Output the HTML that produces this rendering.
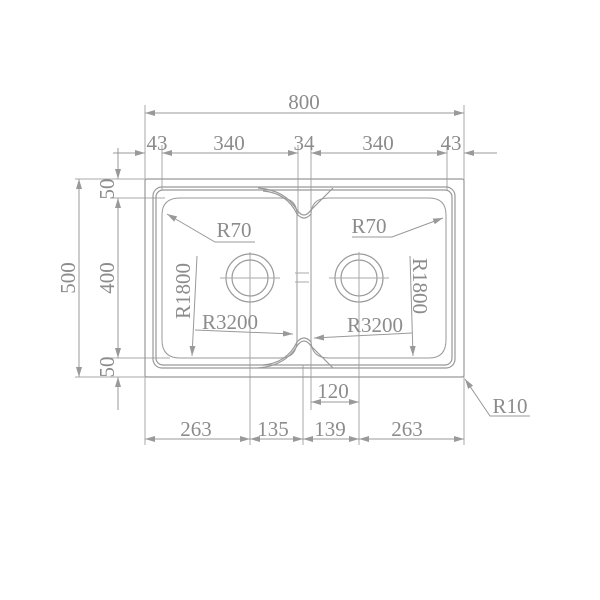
<!DOCTYPE html>
<html><head><style>html,body{margin:0;padding:0;background:#fff}svg{display:block}text{font-family:"Liberation Serif",serif;font-size:21px;fill:#8c8c8c}</style></head><body>
<svg width="600" height="600" viewBox="0 0 600 600" xmlns="http://www.w3.org/2000/svg">
<defs><marker id="a" viewBox="0 0 10 6" refX="10" refY="3" markerWidth="10" markerHeight="6" orient="auto-start-reverse" markerUnits="userSpaceOnUse"><path d="M0,0L10,3L0,6z" fill="#999"/></marker></defs>
<g stroke="#aaa" stroke-width="1" fill="none">
<line x1="145" y1="105" x2="145" y2="445"/><line x1="464" y1="105" x2="464" y2="383"/>
<line x1="162" y1="145" x2="162" y2="190"/><line x1="447" y1="145" x2="447" y2="190"/>
<line x1="298" y1="145" x2="298" y2="214"/><line x1="311" y1="145" x2="311" y2="410"/>
<line x1="250" y1="252" x2="250" y2="445"/><line x1="359" y1="252" x2="359" y2="445"/>
<line x1="303" y1="365" x2="303" y2="445"/><line x1="464" y1="377" x2="464" y2="445"/>
<line x1="75" y1="179" x2="145" y2="179"/><line x1="75" y1="377" x2="145" y2="377"/>
<line x1="110" y1="198" x2="165" y2="198"/><line x1="110" y1="358" x2="170" y2="358"/>
</g>
<g stroke="#999" stroke-width="1" fill="none">
<line x1="145" y1="113" x2="464" y2="113" marker-start="url(#a)" marker-end="url(#a)"/>
<line x1="113" y1="153" x2="145" y2="153" marker-end="url(#a)"/>
<line x1="162" y1="153" x2="298" y2="153" marker-start="url(#a)" marker-end="url(#a)"/>
<line x1="311" y1="153" x2="447" y2="153" marker-start="url(#a)" marker-end="url(#a)"/>
<line x1="497" y1="153" x2="464" y2="153" marker-end="url(#a)"/>
<line x1="79" y1="179" x2="79" y2="377" marker-start="url(#a)" marker-end="url(#a)"/>
<line x1="118" y1="148" x2="118" y2="179" marker-end="url(#a)"/>
<line x1="118" y1="198" x2="118" y2="358" marker-start="url(#a)" marker-end="url(#a)"/>
<line x1="118" y1="410" x2="118" y2="377" marker-end="url(#a)"/>
<line x1="145" y1="439" x2="250" y2="439" marker-start="url(#a)" marker-end="url(#a)"/>
<line x1="250" y1="439" x2="303" y2="439" marker-start="url(#a)" marker-end="url(#a)"/>
<line x1="303" y1="439" x2="359" y2="439" marker-start="url(#a)" marker-end="url(#a)"/>
<line x1="359" y1="439" x2="464" y2="439" marker-start="url(#a)" marker-end="url(#a)"/>
<line x1="311" y1="402" x2="359" y2="402" marker-start="url(#a)" marker-end="url(#a)"/>
<polyline points="530,416 490,416 465,379" marker-end="url(#a)"/>
<polyline points="255,242 215,242 167,214" marker-end="url(#a)"/>
<polyline points="352,237 392,237 443,218" marker-end="url(#a)"/>
<line x1="197" y1="256" x2="192" y2="356" marker-end="url(#a)"/>
<line x1="410" y1="256" x2="413" y2="356" marker-end="url(#a)"/>
<line x1="195" y1="330" x2="293" y2="334" marker-end="url(#a)"/>
<line x1="412" y1="333" x2="314" y2="338" marker-end="url(#a)"/>
</g>
<g stroke="#999" stroke-width="1.2" fill="none">
<rect x="145" y="179" width="319" height="198" rx="2"/>
<rect x="153" y="187" width="302" height="181" rx="9"/>
<rect x="156" y="190" width="296" height="175" rx="7"/>
<path d="M180,198 L280,198 Q297,198 297,215 L297,340 Q297,358 280,358 L180,358 Q162,358 162,340 L162,215 Q162,198 180,198Z" stroke-width="1"/>
<path d="M329,198 L429,198 Q446,198 446,215 L446,340 Q446,358 429,358 L329,358 Q311,358 311,340 L311,215 Q311,198 329,198Z" stroke-width="1"/>
<path d="M258,188 Q285,190 297,210 Q304,220 311,210 L333,188" />
<path d="M263,191 Q287,193 297,214 Q304,222 311,214" />
<path d="M258,368 Q285,366 297,346 Q304,336 311,346 L333,368" />
<path d="M263,365 Q287,363 297,342 Q304,334 311,342" />
<circle cx="250" cy="278" r="24"/><circle cx="250" cy="278" r="18"/>
<circle cx="359" cy="278" r="24"/><circle cx="359" cy="278" r="18"/>
</g>
<g stroke="#aaa" stroke-width="1">
<line x1="220" y1="278" x2="280" y2="278"/><line x1="329" y1="278" x2="389" y2="278"/>
<line x1="359" y1="252" x2="359" y2="304"/>
<line x1="295" y1="273" x2="309" y2="273"/><line x1="295" y1="282" x2="309" y2="282"/>
</g>
<text x="304" y="109" text-anchor="middle">800</text>
<text x="157" y="150" text-anchor="middle">43</text>
<text x="229" y="150" text-anchor="middle">340</text>
<text x="304" y="150" text-anchor="middle">34</text>
<text x="378" y="150" text-anchor="middle">340</text>
<text x="451" y="150" text-anchor="middle">43</text>
<text x="234" y="237" text-anchor="middle">R70</text>
<text x="369" y="233" text-anchor="middle">R70</text>
<text x="230" y="329" text-anchor="middle">R3200</text>
<text x="375" y="332" text-anchor="middle">R3200</text>
<text transform="translate(190,291) rotate(-90)" text-anchor="middle">R1800</text>
<text transform="translate(413,286) rotate(90)" text-anchor="middle">R1800</text>
<text transform="translate(75,278) rotate(-90)" text-anchor="middle">500</text>
<text transform="translate(114,278) rotate(-90)" text-anchor="middle">400</text>
<text transform="translate(114,189) rotate(-90)" text-anchor="middle">50</text>
<text transform="translate(114,367) rotate(-90)" text-anchor="middle">50</text>
<text x="333" y="398" text-anchor="middle">120</text>
<text x="510" y="413" text-anchor="middle">R10</text>
<text x="196" y="436" text-anchor="middle">263</text>
<text x="273" y="436" text-anchor="middle">135</text>
<text x="330" y="436" text-anchor="middle">139</text>
<text x="407" y="436" text-anchor="middle">263</text>
</svg>
</body></html>
